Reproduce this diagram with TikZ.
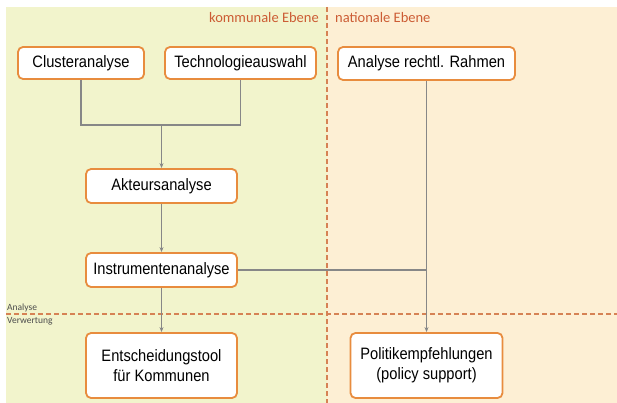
\documentclass[tikz,border=0pt]{standalone}
\usepackage{fontspec}
\setmainfont{Liberation Sans}[FakeStretch=0.89]
\newfontfamily\labelfont{Carlito}
\usetikzlibrary{arrows.meta}
\definecolor{localbg}{RGB}{242,244,204}
\definecolor{nationalbg}{RGB}{253,239,212}
\definecolor{boxedge}{RGB}{232,140,62}
\definecolor{levelcol}{RGB}{204,92,52}
\definecolor{divider}{RGB}{214,130,84}
\definecolor{linkcol}{RGB}{135,135,135}
\tikzset{
  stepbox/.style={draw=boxedge, line width=1.8pt, fill=white, rounded corners=5pt,
    font=\fontsize{16.5}{20}\selectfont, align=center, inner sep=0pt},
  link/.style={draw=linkcol, line width=1.1pt},
  arrowlink/.style={link, -{Stealth[length=5pt,width=4pt]}},
  levellabel/.style={text=levelcol, font=\labelfont\fontsize{14.5}{16}\selectfont, inner sep=0pt},
  phaselabel/.style={text=black!70, font=\labelfont\fontsize{9.5}{10}\selectfont, inner sep=0pt},
  dividerline/.style={draw=divider, line width=1.1pt, dash pattern=on 5pt off 3pt}
}
\begin{document}
\begin{tikzpicture}[x=1pt,y=-1pt]
  \useasboundingbox (0,0) rectangle (617,403);
  % backgrounds of the two levels
  \fill[white] (0,0) rectangle (617,403);
  \fill[localbg] (6,7) rectangle (327,403);
  \fill[nationalbg] (327,7) rectangle (617,403);
  % dividers
  \draw[dividerline] (327,7) -- (327,403);
  \draw[dividerline] (6,314) -- (617,314);
  % level and phase labels
  \node[levellabel, anchor=east] (kom) at (319,18) {kommunale Ebene};
  \node[levellabel, anchor=west] (nat) at (335,18) {nationale Ebene};
  \node[phaselabel, anchor=south west] (ana) at (7,312) {Analyse};
  \node[phaselabel, anchor=north west] (ver) at (7,317) {Verwertung};
  % steps
  \node[stepbox, minimum width=126pt, minimum height=32pt] (clu) at (81,63) {Clusteranalyse};
  \node[stepbox, minimum width=151pt, minimum height=32pt] (tech) at (240.5,63) {Technologieauswahl};
  \node[stepbox, minimum width=177pt, minimum height=33pt] (rahmen) at (426.5,63.5) {Analyse rechtl. Rahmen};
  \node[stepbox, minimum width=151pt, minimum height=34pt] (akt) at (161.5,186) {Akteursanalyse};
  \node[stepbox, minimum width=151pt, minimum height=34pt] (inst) at (161.5,270) {Instrumentenanalyse};
  \node[stepbox, minimum width=151pt, minimum height=65pt] (tool) at (161.5,365.5) {Entscheidungstool\\für Kommunen};
  \node[stepbox, minimum width=152pt, minimum height=65pt] (pol) at (426.5,365.5) {Politikempfehlungen\\(policy support)};
  % connectors
  \coordinate (join) at (161.5,125);
  \coordinate (merge) at (rahmen.south |- inst.east);
  \draw[link] (clu.south) |- (join) -| (tech.south);
  \draw[arrowlink] (join) -- (akt.north);
  \draw[arrowlink] (akt.south) -- (inst.north);
  \draw[arrowlink] (inst.south) -- (tool.north);
  \draw[arrowlink] (rahmen.south) -- (pol.north);
  \draw[link] (inst.east) -- (merge);
\end{tikzpicture}
\end{document}
